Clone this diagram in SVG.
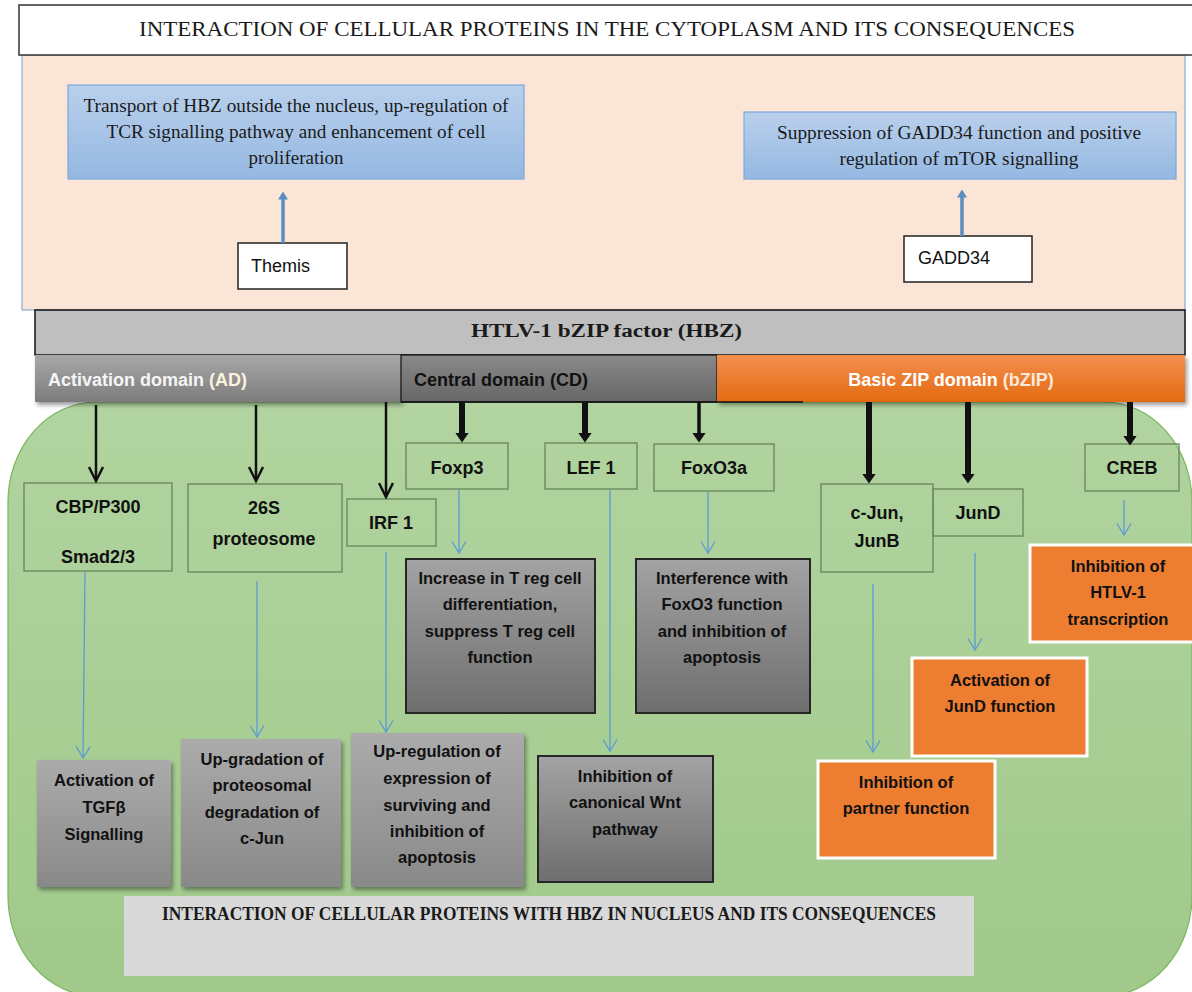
<svg xmlns="http://www.w3.org/2000/svg" width="1192" height="992" viewBox="0 0 1192 992">
<defs>
<style>
.serif{font-family:"Liberation Serif","Times New Roman",serif;fill:#1a1a1a}
.sans{font-family:"Liberation Sans",Arial,sans-serif}
.lbl{font-family:"Liberation Sans",Arial,sans-serif;font-weight:bold;font-size:18px;fill:#111;text-anchor:middle}
.res{font-family:"Liberation Sans",Arial,sans-serif;font-weight:bold;font-size:16.5px;fill:#111;text-anchor:middle}
.gbox{fill:none;stroke:#6f8f60;stroke-width:1.5}
.adres{fill:url(#gAD);filter:url(#shadow)}
.cdres{fill:url(#gCD);stroke:#262626;stroke-width:2}
.bzres{fill:#ed7d31;stroke:#ffffff;stroke-width:3}
.blue{fill:url(#gBlue);stroke:#7ba7dc;stroke-width:1.2}
.wbox{fill:#ffffff;stroke:#222;stroke-width:1.5}
.ab{stroke:#111;stroke-width:2.5;fill:none;marker-end:url(#openBlack)}
.at{stroke:#111;stroke-width:6;fill:none;marker-end:url(#thickHead)}
.am{stroke:#111;stroke-width:3.5;fill:none;marker-end:url(#thickHead)}
.bl{stroke:#5b9bd5;stroke-width:1.3;fill:none;marker-end:url(#openBlue)}
.up{stroke:#5b8dc0;stroke-width:3.5;fill:none;marker-end:url(#blueUp)}
</style>
<linearGradient id="gBlue" x1="0" y1="0" x2="0" y2="1"><stop offset="0" stop-color="#b9d0ec"/><stop offset="1" stop-color="#95b8e2"/></linearGradient>
<linearGradient id="gAD" x1="0" y1="0" x2="0" y2="1"><stop offset="0" stop-color="#ababab"/><stop offset="1" stop-color="#898989"/></linearGradient>
<linearGradient id="gCD" x1="0" y1="0" x2="0" y2="1"><stop offset="0" stop-color="#a3a3a3"/><stop offset="1" stop-color="#6e6e6e"/></linearGradient>
<linearGradient id="gADbar" x1="0" y1="0" x2="0" y2="1"><stop offset="0" stop-color="#a8a8a8"/><stop offset="1" stop-color="#7c7c7c"/></linearGradient>
<linearGradient id="gCDbar" x1="0" y1="0" x2="0" y2="1"><stop offset="0" stop-color="#8a8a8a"/><stop offset="1" stop-color="#666666"/></linearGradient>
<linearGradient id="gBZbar" x1="0" y1="0" x2="0" y2="1"><stop offset="0" stop-color="#f58e4f"/><stop offset="1" stop-color="#e36a10"/></linearGradient>
<linearGradient id="gGreen" x1="0" y1="0" x2="0" y2="1"><stop offset="0" stop-color="#b2d4a0"/><stop offset="1" stop-color="#a0c98a"/></linearGradient>
<filter id="shadow" x="-10%" y="-10%" width="130%" height="130%"><feDropShadow dx="2" dy="3" stdDeviation="2" flood-color="#000" flood-opacity="0.4"/></filter>
<marker id="openBlack" markerUnits="userSpaceOnUse" viewBox="0 0 17 16" markerWidth="17" markerHeight="16" refX="15" refY="8" orient="auto"><path d="M1,1 L15,8 L1,15" fill="none" stroke="#111" stroke-width="2.5"/></marker>
<marker id="thickHead" markerUnits="userSpaceOnUse" viewBox="0 0 10 14" markerWidth="10" markerHeight="14" refX="0.5" refY="7" orient="auto"><path d="M0,0 L10,7 L0,14 z" fill="#111"/></marker>
<marker id="openBlue" markerUnits="userSpaceOnUse" viewBox="0 0 14 16" markerWidth="14" markerHeight="16" refX="12.5" refY="8" orient="auto"><path d="M1,1 L12.5,8 L1,15" fill="none" stroke="#5b9bd5" stroke-width="1.3"/></marker>
<marker id="blueUp" markerUnits="userSpaceOnUse" viewBox="0 0 8 10" markerWidth="8" markerHeight="10" refX="0.5" refY="5" orient="auto"><path d="M0,0 L8,5 L0,10 z" fill="#5b8dc0"/></marker>
</defs>

<!-- backgrounds -->
<rect x="22" y="55" width="1163" height="255" fill="#fbe5d6" stroke="#6f9fcf" stroke-width="1"/>
<rect x="8" y="402" width="1184" height="594" rx="88" ry="100" fill="url(#gGreen)" stroke="#7ab55c" stroke-width="1.2"/>

<g id="title">
<rect x="19" y="5" width="1180" height="50" fill="#ffffff" stroke="#333" stroke-width="1.5"/>
<text class="serif" x="139" y="36" font-size="21" textLength="936" lengthAdjust="spacingAndGlyphs">INTERACTION OF CELLULAR PROTEINS IN THE CYTOPLASM AND ITS CONSEQUENCES</text>
</g>

<g id="themis-result">
<rect class="blue" x="68" y="85" width="456" height="94"/>
<text class="serif" font-size="18" text-anchor="middle"><tspan x="296" y="112" textLength="425" lengthAdjust="spacingAndGlyphs">Transport of HBZ outside the nucleus, up-regulation of</tspan><tspan x="296" y="138" textLength="379" lengthAdjust="spacingAndGlyphs">TCR signalling pathway and enhancement of cell</tspan><tspan x="296" y="164" textLength="95" lengthAdjust="spacingAndGlyphs">proliferation</tspan></text>
</g>
<g id="themis">
<rect class="wbox" x="238" y="243" width="109" height="46"/>
<text class="sans" x="251" y="272" font-size="18" fill="#111">Themis</text>
</g>
<g id="gadd34-result">
<rect class="blue" x="744" y="112" width="432" height="67"/>
<text class="serif" font-size="18" text-anchor="middle"><tspan x="959" y="139" textLength="364" lengthAdjust="spacingAndGlyphs">Suppression of GADD34 function and positive</tspan><tspan x="959" y="165" textLength="239" lengthAdjust="spacingAndGlyphs">regulation of mTOR signalling</tspan></text>
</g>
<g id="gadd34">
<rect class="wbox" x="904" y="236" width="128" height="46"/>
<text class="sans" x="918" y="264" font-size="18" fill="#111">GADD34</text>
</g>

<g id="hbz">
<rect x="35" y="310" width="1150" height="45" fill="#bfbfbf" stroke="#111" stroke-width="1.5"/>
<text class="serif" x="471" y="337" font-size="18" font-weight="bold" textLength="271" lengthAdjust="spacingAndGlyphs">HTLV-1 bZIP factor (HBZ)</text>
</g>
<g id="domain-ad">
<rect x="35" y="355" width="366" height="47" fill="url(#gADbar)" filter="url(#shadow)"/>
<text class="sans" x="48" y="386" font-size="18" font-weight="bold" fill="#f5f5f5">Activation domain <tspan fill="#fbf3dc">(AD)</tspan></text>
</g>
<g id="domain-cd">
<rect x="401" y="355" width="316" height="47" fill="url(#gCDbar)" stroke="#111" stroke-width="1.2"/>
<text class="sans" x="414" y="386" font-size="18" font-weight="bold" fill="#111">Central domain (CD)</text>
</g>
<g id="domain-bzip">
<rect x="717" y="355" width="468" height="47" fill="url(#gBZbar)" filter="url(#shadow)"/>
<text class="sans" x="951" y="386" font-size="18" font-weight="bold" fill="#ffffff" text-anchor="middle">Basic ZIP domain <tspan fill="#fde9d9">(bZIP)</tspan></text>
</g>

<!-- interactor nodes -->
<g id="cbp"><rect class="gbox" x="24" y="483" width="148" height="88"/><text class="lbl"><tspan x="98" y="513">CBP/P300</tspan><tspan x="98" y="563">Smad2/3</tspan></text></g>
<g id="p26s"><rect class="gbox" x="188" y="484" width="154" height="88"/><text class="lbl"><tspan x="264" y="514">26S</tspan><tspan x="264" y="545">proteosome</tspan></text></g>
<g id="irf1"><rect class="gbox" x="347" y="499" width="89" height="47"/><text class="lbl" x="391" y="529">IRF 1</text></g>
<g id="foxp3"><rect class="gbox" x="406" y="443" width="102" height="46"/><text class="lbl" x="457" y="474">Foxp3</text></g>
<g id="lef1"><rect class="gbox" x="545" y="443" width="92" height="46"/><text class="lbl" x="591" y="474">LEF 1</text></g>
<g id="foxo3a"><rect class="gbox" x="654" y="444" width="120" height="47"/><text class="lbl" x="714" y="474">FoxO3a</text></g>
<g id="cjun"><rect class="gbox" x="821" y="484" width="112" height="88"/><text class="lbl"><tspan x="877" y="519">c-Jun,</tspan><tspan x="877" y="547">JunB</tspan></text></g>
<g id="jund"><rect class="gbox" x="933" y="489" width="90" height="47"/><text class="lbl" x="978" y="519">JunD</text></g>
<g id="creb"><rect class="gbox" x="1085" y="444" width="94" height="47"/><text class="lbl" x="1132" y="474">CREB</text></g>

<!-- result nodes -->
<g id="res-tgfb"><rect class="adres" x="37" y="760" width="134" height="127"/><text class="res"><tspan x="104" y="786">Activation of</tspan><tspan x="104" y="813">TGFβ</tspan><tspan x="104" y="840">Signalling</tspan></text></g>
<g id="res-proteo"><rect class="adres" x="181" y="739" width="160" height="148"/><text class="res"><tspan x="262" y="765">Up-gradation of</tspan><tspan x="262" y="791">proteosomal</tspan><tspan x="262" y="818">degradation of</tspan><tspan x="262" y="844">c-Jun</tspan></text></g>
<g id="res-surv"><rect class="adres" x="351" y="733" width="173" height="154"/><text class="res"><tspan x="437" y="757">Up-regulation of</tspan><tspan x="437" y="784">expression of</tspan><tspan x="437" y="811">surviving and</tspan><tspan x="437" y="837">inhibition of</tspan><tspan x="437" y="863">apoptosis</tspan></text></g>
<g id="res-treg"><rect class="cdres" x="406" y="559" width="189" height="154"/><text class="res"><tspan x="500" y="584">Increase in T reg cell</tspan><tspan x="500" y="610">differentiation,</tspan><tspan x="500" y="637">suppress T reg cell</tspan><tspan x="500" y="663">function</tspan></text></g>
<g id="res-wnt"><rect class="cdres" x="538" y="756" width="175" height="126"/><text class="res"><tspan x="625" y="782">Inhibition of</tspan><tspan x="625" y="808">canonical Wnt</tspan><tspan x="625" y="835">pathway</tspan></text></g>
<g id="res-foxo3"><rect class="cdres" x="636" y="559" width="174" height="154"/><text class="res"><tspan x="722" y="584">Interference with</tspan><tspan x="722" y="610">FoxO3 function</tspan><tspan x="722" y="637">and inhibition of</tspan><tspan x="722" y="663">apoptosis</tspan></text></g>
<g id="res-partner"><rect class="bzres" x="818" y="761" width="177" height="97"/><text class="res"><tspan x="906" y="788">Inhibition of</tspan><tspan x="906" y="814">partner function</tspan></text></g>
<g id="res-jund"><rect class="bzres" x="912" y="658" width="175" height="98"/><text class="res"><tspan x="1000" y="686">Activation of</tspan><tspan x="1000" y="712">JunD function</tspan></text></g>
<g id="res-htlv"><rect class="bzres" x="1030" y="545" width="172" height="97"/><text class="res"><tspan x="1118" y="572">Inhibition of</tspan><tspan x="1118" y="598">HTLV-1</tspan><tspan x="1118" y="625">transcription</tspan></text></g>

<g id="nucleus-label">
<rect x="124" y="896" width="850" height="80" fill="#d9d9d9"/>
<text class="serif" x="162" y="920" font-size="18" font-weight="bold" textLength="774" lengthAdjust="spacingAndGlyphs">INTERACTION OF CELLULAR PROTEINS WITH HBZ IN NUCLEUS AND ITS CONSEQUENCES</text>
</g>

<g id="connectors">
<line class="up" x1="283" y1="243" x2="283" y2="199"/>
<line class="up" x1="962" y1="236" x2="962" y2="197"/>
<line class="ab" x1="96" y1="405" x2="96" y2="481"/>
<line class="ab" x1="256" y1="405" x2="256" y2="481"/>
<line class="ab" x1="386" y1="402" x2="386" y2="497"/>
<line class="at" x1="462" y1="402" x2="462" y2="433"/>
<line class="at" x1="585" y1="402" x2="585" y2="433"/>
<line class="am" x1="699" y1="402" x2="699" y2="433"/>
<line class="at" x1="869" y1="402" x2="869" y2="474"/>
<line class="at" x1="968" y1="402" x2="968" y2="474"/>
<line class="at" x1="1130" y1="402" x2="1130" y2="436"/>
<line class="bl" x1="85" y1="572" x2="83" y2="758"/>
<line class="bl" x1="257" y1="581" x2="257" y2="737"/>
<line class="bl" x1="386" y1="552" x2="386" y2="732"/>
<line class="bl" x1="459" y1="490" x2="459" y2="553"/>
<line class="bl" x1="610" y1="490" x2="610" y2="751"/>
<line class="bl" x1="708" y1="491" x2="708" y2="553"/>
<line class="bl" x1="873" y1="584" x2="873" y2="752"/>
<line class="bl" x1="975" y1="553" x2="975" y2="650"/>
<line class="bl" x1="1124" y1="500" x2="1124" y2="535"/>
<line x1="401" y1="402" x2="803" y2="402" stroke="#111" stroke-width="1.5"/>
</g>
</svg>
